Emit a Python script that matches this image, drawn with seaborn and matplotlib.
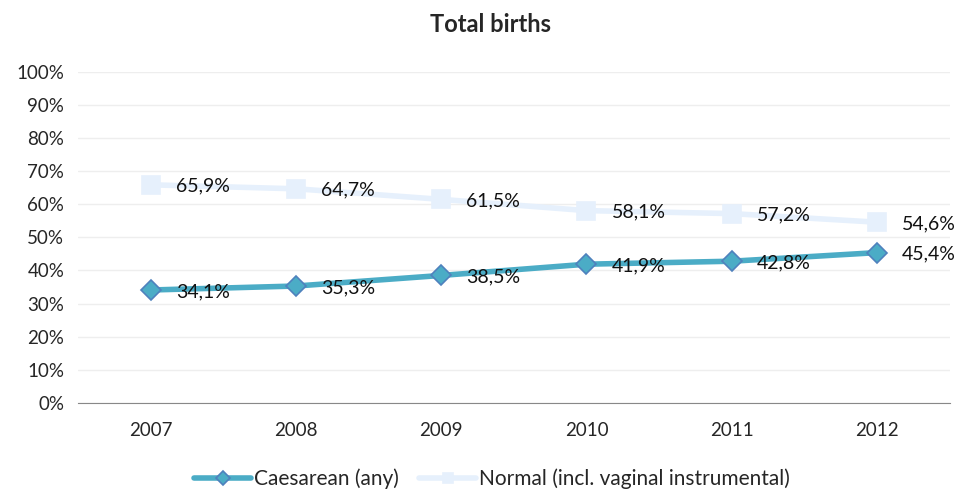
import pandas as pd
import numpy as np
import matplotlib.pyplot as plt
from matplotlib.lines import Line2D
import seaborn as sns

years = ['2007', '2008', '2009', '2010', '2011', '2012']
caesarean = [34.1, 35.3, 38.5, 41.9, 42.8, 45.4]
normal = [65.9, 64.7, 61.5, 58.1, 57.2, 54.6]
series_names = ['Caesarean (any)', 'Normal (incl. vaginal instrumental)']

sns.set_style('white')
plt.rcParams['font.family'] = ['Lato', 'DejaVu Sans']

df = pd.DataFrame({'year': years * 2,
                   'value': caesarean + normal,
                   'series': [series_names[0]] * 6 + [series_names[1]] * 6})

fig = plt.figure(figsize=(9.65, 4.9), dpi=100)
ax = fig.add_axes([0.081, 0.178, 0.903, 0.675])

styles = {series_names[0]: dict(color='#4BACC6', marker='D', mfc='#4BACC6', mec='#4F81BD', ms=10),
          series_names[1]: dict(color='#E6F0FC', marker='s', mfc='#E6F0FC', mec='#E6F0FC', ms=13)}

handles = []
for name in series_names:
    sub = df[df['series'] == name]
    st = styles[name]
    sns.lineplot(data=sub, x='year', y='value', ax=ax, color=st['color'], lw=4,
                 marker=st['marker'], markersize=st['ms'], markerfacecolor=st['mfc'],
                 markeredgecolor=st['mec'], markeredgewidth=1.2, zorder=3)
    for i, v in enumerate(sub['value']):
        ax.annotate('{:.1f}%'.format(v).replace('.', ','), (i, v), xytext=(18, -1),
                    textcoords='offset points', fontsize=14, color='#111111',
                    va='center', ha='left', zorder=4)
    handles.append(Line2D([], [], color=st['color'], lw=4, marker=st['marker'], ms=7,
                          mfc=st['mfc'], mec=st['mec'], mew=1.2, label=name))

ax.set_xlim(-0.5, 5.5)
ax.set_ylim(0, 100)
ax.set_yticks(np.arange(0, 101, 10))
ax.set_yticklabels(['{}%'.format(t) for t in range(0, 101, 10)])
ax.grid(axis='y', color='#EEEEEE', lw=1)
ax.set_axisbelow(True)
for s in ['top', 'right', 'left']:
    ax.spines[s].set_visible(False)
ax.spines['bottom'].set_color('#888888')
ax.tick_params(axis='y', length=0, labelsize=13.5, pad=10)
ax.tick_params(axis='x', length=0, labelsize=13.5, pad=14)
ax.set_xlabel('')
ax.set_ylabel('')
fig.text(0.508, 0.949, 'Total births', fontsize=17, fontweight='bold', ha='center', va='center')

ax.legend(handles=handles, loc='center', bbox_to_anchor=(0.475, -0.23), ncol=2, frameon=False,
          fontsize=15, handlelength=2.7, handletextpad=0.15, columnspacing=1.0)

fig.savefig('out.png', dpi=100)
